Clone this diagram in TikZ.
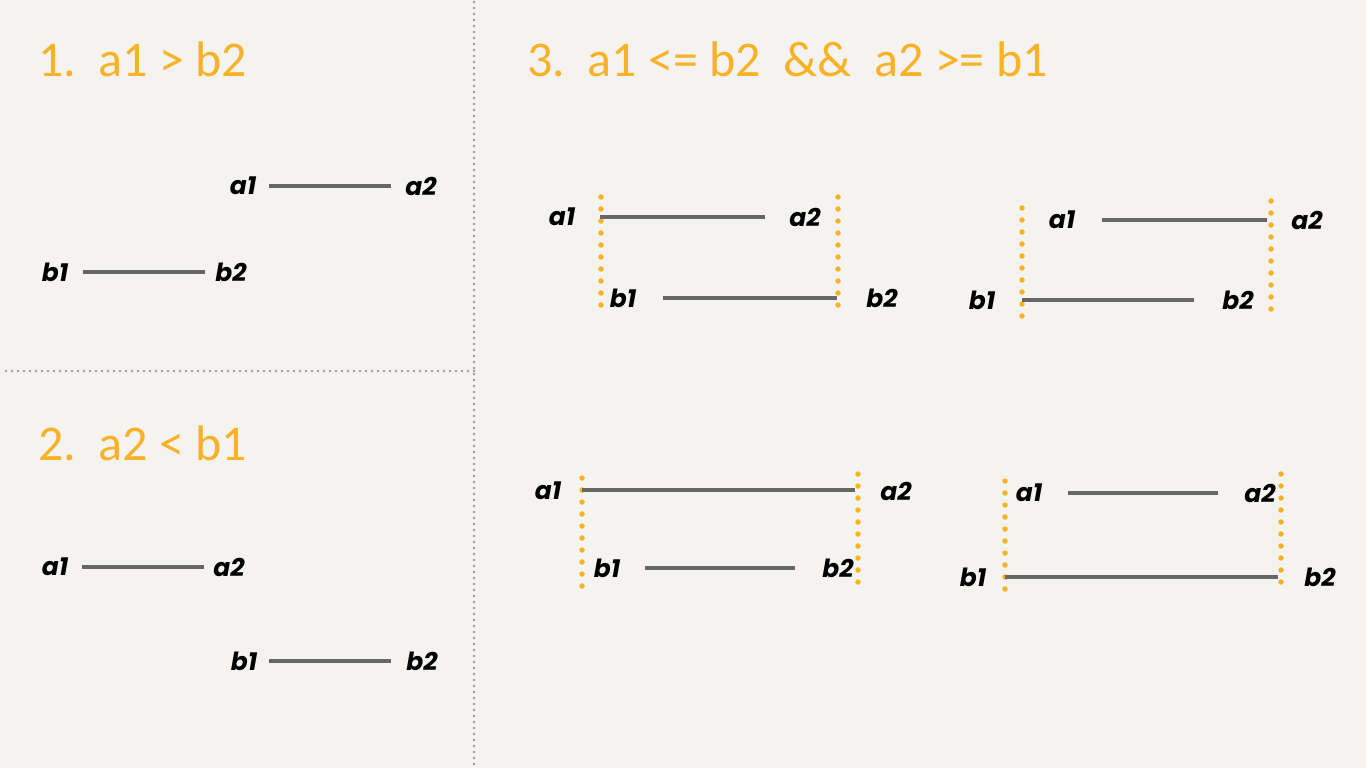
\documentclass[tikz,border=0pt]{standalone}
\usepackage{fontspec}
\newfontfamily\titlefont{Carlito}
\newfontfamily\handfont{Poppins}
\definecolor{bg}{HTML}{F4F3F0}
\definecolor{orng}{HTML}{F7B228}
\definecolor{seg}{HTML}{666666}
\definecolor{divc}{HTML}{999999}
\tikzset{
  title/.style={anchor=base west, text=orng, font=\titlefont\fontsize{50}{50}\selectfont, inner sep=0pt},
  lbl/.style={text=black, font=\handfont\bfseries\itshape\fontsize{25}{25}\selectfont, inner sep=0pt},
  seg/.style={draw=seg, line width=3.2pt},
  bound/.style={draw=orng, line width=5.5pt, line cap=round, dash pattern=on 0pt off 12pt},
  divider/.style={draw=divc, line width=2.6pt, line cap=round, dash pattern=on 0pt off 6pt},
}
\begin{document}
\begin{tikzpicture}[x=1pt,y=-1pt]
\fill[bg] (0,0) rectangle (1366,768);
\useasboundingbox (0,0) rectangle (1366,768);
% dividers
\coordinate (vt) at (474,2); \coordinate (vb) at (474,768);
\coordinate (hl) at (6,371); \coordinate (hr) at (474,371);
\draw[divider] (vt) -- (vb);
\draw[divider] (hl) -- (hr);
% titles
\node[title] (t1) at (38,77) {1.\ \ a1 > b2};
\node[title] (t2) at (38,460) {2.\ \ a2 < b1};
\node[title] (t3) at (527,77) {3.\ \ a1 <= b2\ \ \&\&\ \ a2 >= b1};
% panel 1
\node[lbl] (p1a1) at (243,186) {a1}; \node[lbl] (p1a2) at (421,186) {a2};
\coordinate (p1as) at (269,186); \coordinate (p1ae) at (391,186);
\draw[seg] (p1as) -- (p1ae);
\node[lbl] (p1b1) at (55,272) {b1}; \node[lbl] (p1b2) at (231,272) {b2};
\coordinate (p1bs) at (83,272); \coordinate (p1be) at (205,272);
\draw[seg] (p1bs) -- (p1be);
% panel 2
\node[lbl] (p2a1) at (55,567) {a1}; \node[lbl] (p2a2) at (229,567) {a2};
\coordinate (p2as) at (82,567); \coordinate (p2ae) at (204,567);
\draw[seg] (p2as) -- (p2ae);
\node[lbl] (p2b1) at (244,661) {b1}; \node[lbl] (p2b2) at (422,661) {b2};
\coordinate (p2bs) at (269,661); \coordinate (p2be) at (391,661);
\draw[seg] (p2bs) -- (p2be);
% panel 3 top-left
\coordinate (q1lt) at (601,197); \coordinate (q1lb) at (601,307);
\coordinate (q1rt) at (838,197); \coordinate (q1rb) at (838,306);
\draw[bound] (q1lt) -- (q1lb); \draw[bound] (q1rt) -- (q1rb);
\node[lbl] (q1a1) at (562,217) {a1}; \node[lbl] (q1a2) at (805,217) {a2};
\coordinate (q1as) at (600,217); \coordinate (q1ae) at (765,217);
\draw[seg] (q1as) -- (q1ae);
\node[lbl] (q1b1) at (623,298) {b1}; \node[lbl] (q1b2) at (882,298) {b2};
\coordinate (q1bs) at (663,298); \coordinate (q1be) at (837,298);
\draw[seg] (q1bs) -- (q1be);
% panel 3 top-right
\coordinate (q2lt) at (1022,208); \coordinate (q2lb) at (1022,316);
\coordinate (q2rt) at (1271,201); \coordinate (q2rb) at (1271,310);
\draw[bound] (q2lt) -- (q2lb); \draw[bound] (q2rt) -- (q2rb);
\node[lbl] (q2a1) at (1062,220) {a1}; \node[lbl] (q2a2) at (1307,220) {a2};
\coordinate (q2as) at (1102,220); \coordinate (q2ae) at (1267,220);
\draw[seg] (q2as) -- (q2ae);
\node[lbl] (q2b1) at (982,300) {b1}; \node[lbl] (q2b2) at (1238,300) {b2};
\coordinate (q2bs) at (1022,300); \coordinate (q2be) at (1194,300);
\draw[seg] (q2bs) -- (q2be);
% panel 3 bottom-left
\coordinate (q3lt) at (582,478); \coordinate (q3lb) at (582,588);
\coordinate (q3rt) at (858,474); \coordinate (q3rb) at (858,584);
\draw[bound] (q3lt) -- (q3lb); \draw[bound] (q3rt) -- (q3rb);
\node[lbl] (q3a1) at (548,491) {a1}; \node[lbl] (q3a2) at (896,491) {a2};
\coordinate (q3as) at (582,490); \coordinate (q3ae) at (855,490);
\draw[seg] (q3as) -- (q3ae);
\node[lbl] (q3b1) at (607,568) {b1}; \node[lbl] (q3b2) at (838,568) {b2};
\coordinate (q3bs) at (645,568); \coordinate (q3be) at (795,568);
\draw[seg] (q3bs) -- (q3be);
% panel 3 bottom-right
\coordinate (q4lt) at (1005,481); \coordinate (q4lb) at (1005,590);
\coordinate (q4rt) at (1281,474); \coordinate (q4rb) at (1281,584);
\draw[bound] (q4lt) -- (q4lb); \draw[bound] (q4rt) -- (q4rb);
\node[lbl] (q4a1) at (1029,493) {a1}; \node[lbl] (q4a2) at (1260,493) {a2};
\coordinate (q4as) at (1068,493); \coordinate (q4ae) at (1218,493);
\draw[seg] (q4as) -- (q4ae);
\node[lbl] (q4b1) at (973,577) {b1}; \node[lbl] (q4b2) at (1320,577) {b2};
\coordinate (q4bs) at (1005,577); \coordinate (q4be) at (1278,577);
\draw[seg] (q4bs) -- (q4be);
\end{tikzpicture}
\end{document}
